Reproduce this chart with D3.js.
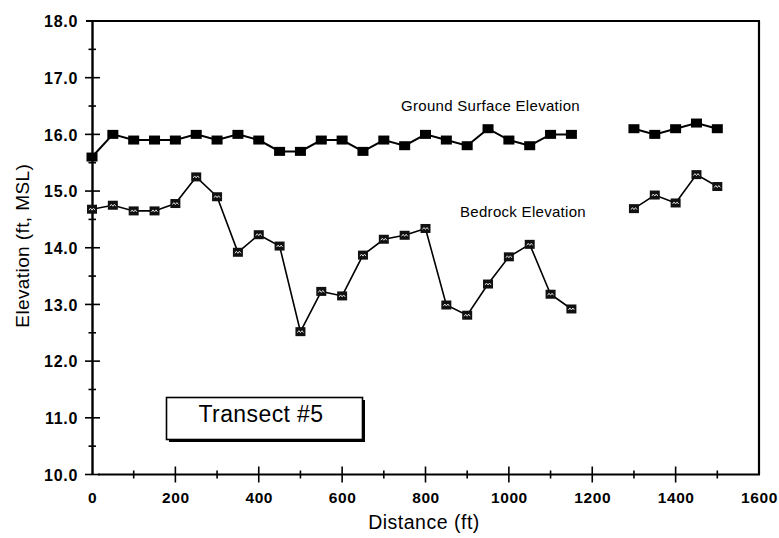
<!DOCTYPE html>
<html>
<head>
<meta charset="utf-8">
<script src="https://cdn.jsdelivr.net/npm/d3@7"></script>
<style>
  html, body { margin: 0; padding: 0; background: #fff; }
  svg { display: block; }
  text { font-family: "Liberation Sans", Arial, Helvetica, sans-serif; fill: #000; }
</style>
</head>
<body>
<svg id="chart" width="779" height="538"></svg>
<script>
// Stations along the transect (ft); 1200 and 1250 were not surveyed.
const distances = [0, 50, 100, 150, 200, 250, 300, 350, 400, 450, 500, 550, 600, 650, 700, 750,
                   800, 850, 900, 950, 1000, 1050, 1100, 1150, 1200, 1250, 1300, 1350, 1400, 1450, 1500];

// Ground surface elevation (ft, MSL)
const groundSurface = [15.6, 16.0, 15.9, 15.9, 15.9, 16.0, 15.9, 16.0, 15.9, 15.7, 15.7, 15.9, 15.9, 15.7, 15.9, 15.8,
                       16.0, 15.9, 15.8, 16.1, 15.9, 15.8, 16.0, 16.0, null, null, 16.1, 16.0, 16.1, 16.2, 16.1];

// Bedrock elevation (ft, MSL)
const bedrock = [14.68, 14.75, 14.65, 14.65, 14.78, 15.25, 14.90, 13.92, 14.23, 14.03, 12.52, 13.23, 13.15, 13.87, 14.15, 14.22,
                 14.34, 12.99, 12.81, 13.36, 13.84, 14.06, 13.18, 12.92, null, null, 14.69, 14.93, 14.79, 15.29, 15.08];

const yTicks = [10, 11, 12, 13, 14, 15, 16, 17, 18];
const yMinorTicks = [10.5, 11.5, 12.5, 13.5, 14.5, 15.5, 16.5, 17.5];
const xTicks = [0, 200, 400, 600, 800, 1000, 1200, 1400, 1600];
const xMinorTicks = [100, 300, 500, 700, 900, 1100, 1300, 1500];

const svg = d3.select("#chart");

const x = d3.scaleLinear().domain([0, 1600]).range([92, 759]);
const y = d3.scaleLinear().domain([10, 18]).range([474.5, 21]);

// Frame: top and right edges
svg.append("line").attr("x1", 86).attr("x2", 760).attr("y1", y(18)).attr("y2", y(18))
  .attr("stroke", "#000").attr("stroke-width", 2);
svg.append("line").attr("x1", 759).attr("x2", 759).attr("y1", y(18)).attr("y2", y(10))
  .attr("stroke", "#000").attr("stroke-width", 2.2);

// Y axis with labels
const yAxis = d3.axisLeft(y).tickValues(yTicks).tickSize(0).tickPadding(14)
  .tickFormat(d3.format(".1f"));
const gy = svg.append("g").attr("transform", `translate(${x(0)},0)`).call(yAxis);
gy.select(".domain").attr("stroke", "#000").attr("stroke-width", 2.4);
gy.selectAll(".tick text")
  .style("font-family", '"Liberation Sans", Arial, sans-serif')
  .style("font-size", "16px").style("font-weight", "bold").style("letter-spacing", "0.7px")
  .attr("dy", "0.36em");

// Crossing tick marks on the Y axis
svg.append("g").selectAll("line").data(yTicks.filter(d => d < 18)).join("line")
  .attr("x1", x(0) - 7).attr("x2", x(0) + 8)
  .attr("y1", d => y(d)).attr("y2", d => y(d))
  .attr("stroke", "#000").attr("stroke-width", 1.6);
svg.append("g").selectAll("line").data(yMinorTicks).join("line")
  .attr("x1", x(0) - 3.5).attr("x2", x(0) + 4)
  .attr("y1", d => y(d)).attr("y2", d => y(d))
  .attr("stroke", "#000").attr("stroke-width", 1.6);

// X axis with labels
const gx = svg.append("g").attr("transform", `translate(0,${y(10)})`)
  .call(d3.axisBottom(x).tickValues(xTicks).tickSize(0).tickPadding(17).tickFormat(d3.format("d")));
gx.select(".domain").remove();
gx.selectAll(".tick text")
  .style("font-family", '"Liberation Sans", Arial, sans-serif')
  .style("font-size", "15.5px").style("font-weight", "bold").style("letter-spacing", "0.6px");

svg.append("line").attr("x1", x(0) + 6).attr("x2", 760).attr("y1", y(10)).attr("y2", y(10))
  .attr("stroke", "#000").attr("stroke-width", 2);
svg.append("g").selectAll("line").data(xTicks.filter(d => d > 0 && d < 1600)).join("line")
  .attr("x1", d => x(d)).attr("x2", d => x(d))
  .attr("y1", y(10) - 8).attr("y2", y(10) + 8)
  .attr("stroke", "#000").attr("stroke-width", 1.6);
svg.append("g").selectAll("line").data(xMinorTicks).join("line")
  .attr("x1", d => x(d)).attr("x2", d => x(d))
  .attr("y1", y(10) - 4).attr("y2", y(10) + 4)
  .attr("stroke", "#000").attr("stroke-width", 1.6);

// Axis titles
svg.append("text").attr("x", 424).attr("y", 529)
  .attr("text-anchor", "middle").style("font-size", "19.5px").style("letter-spacing", "0.5px")
  .text("Distance (ft)");
svg.append("text").attr("transform", `translate(29,${y(14) - 2}) rotate(-90)`)
  .attr("text-anchor", "middle").style("font-size", "19px").style("letter-spacing", "0.4px")
  .text("Elevation (ft, MSL)");

// Series lines (gap where stations are missing)
const pts = (vals) => distances.map((d, i) => ({ d, v: vals[i] }));
const line = d3.line().defined(p => p.v !== null).x(p => x(p.d)).y(p => y(p.v));

svg.append("path").datum(pts(bedrock)).attr("d", line)
  .attr("fill", "none").attr("stroke", "#000").attr("stroke-width", 1.6);
svg.append("path").datum(pts(groundSurface)).attr("d", line)
  .attr("fill", "none").attr("stroke", "#000").attr("stroke-width", 2);

// Bedrock markers: dark squares with a light hatch
const bMarks = svg.append("g").selectAll("g").data(pts(bedrock).filter(p => p.v !== null)).join("g")
  .attr("transform", p => `translate(${x(p.d)},${y(p.v)})`);
bMarks.append("rect").attr("x", -5).attr("y", -4.5).attr("width", 10).attr("height", 9)
  .attr("fill", "#111");
bMarks.append("path").attr("d", "M-3,1 L-1.5,-1 L0,1 L1.5,-1 L3,1")
  .attr("fill", "none").attr("stroke", "#ddd").attr("stroke-width", 1);

// Ground surface markers: solid squares
svg.append("g").selectAll("rect").data(pts(groundSurface).filter(p => p.v !== null)).join("rect")
  .attr("x", p => x(p.d) - 5.5).attr("y", p => y(p.v) - 4.5)
  .attr("width", 11).attr("height", 9).attr("fill", "#000");

// Series labels
svg.append("text").attr("x", 401).attr("y", 111).style("font-size", "15px").style("letter-spacing", "0.3px")
  .text("Ground Surface Elevation");
svg.append("text").attr("x", 460).attr("y", 217).style("font-size", "15px").style("letter-spacing", "0.3px")
  .text("Bedrock Elevation");

// Transect label box with drop shadow
svg.append("rect").attr("x", 169).attr("y", 400).attr("width", 196).attr("height", 42).attr("fill", "#000");
svg.append("rect").attr("x", 166.5).attr("y", 397.5).attr("width", 196).attr("height", 42)
  .attr("fill", "#fff").attr("stroke", "#000").attr("stroke-width", 1.6);
svg.append("text").attr("x", 261).attr("y", 422).attr("text-anchor", "middle")
  .style("font-size", "23px").style("letter-spacing", "0.4px")
  .text("Transect #5");
</script>
</body>
</html>
